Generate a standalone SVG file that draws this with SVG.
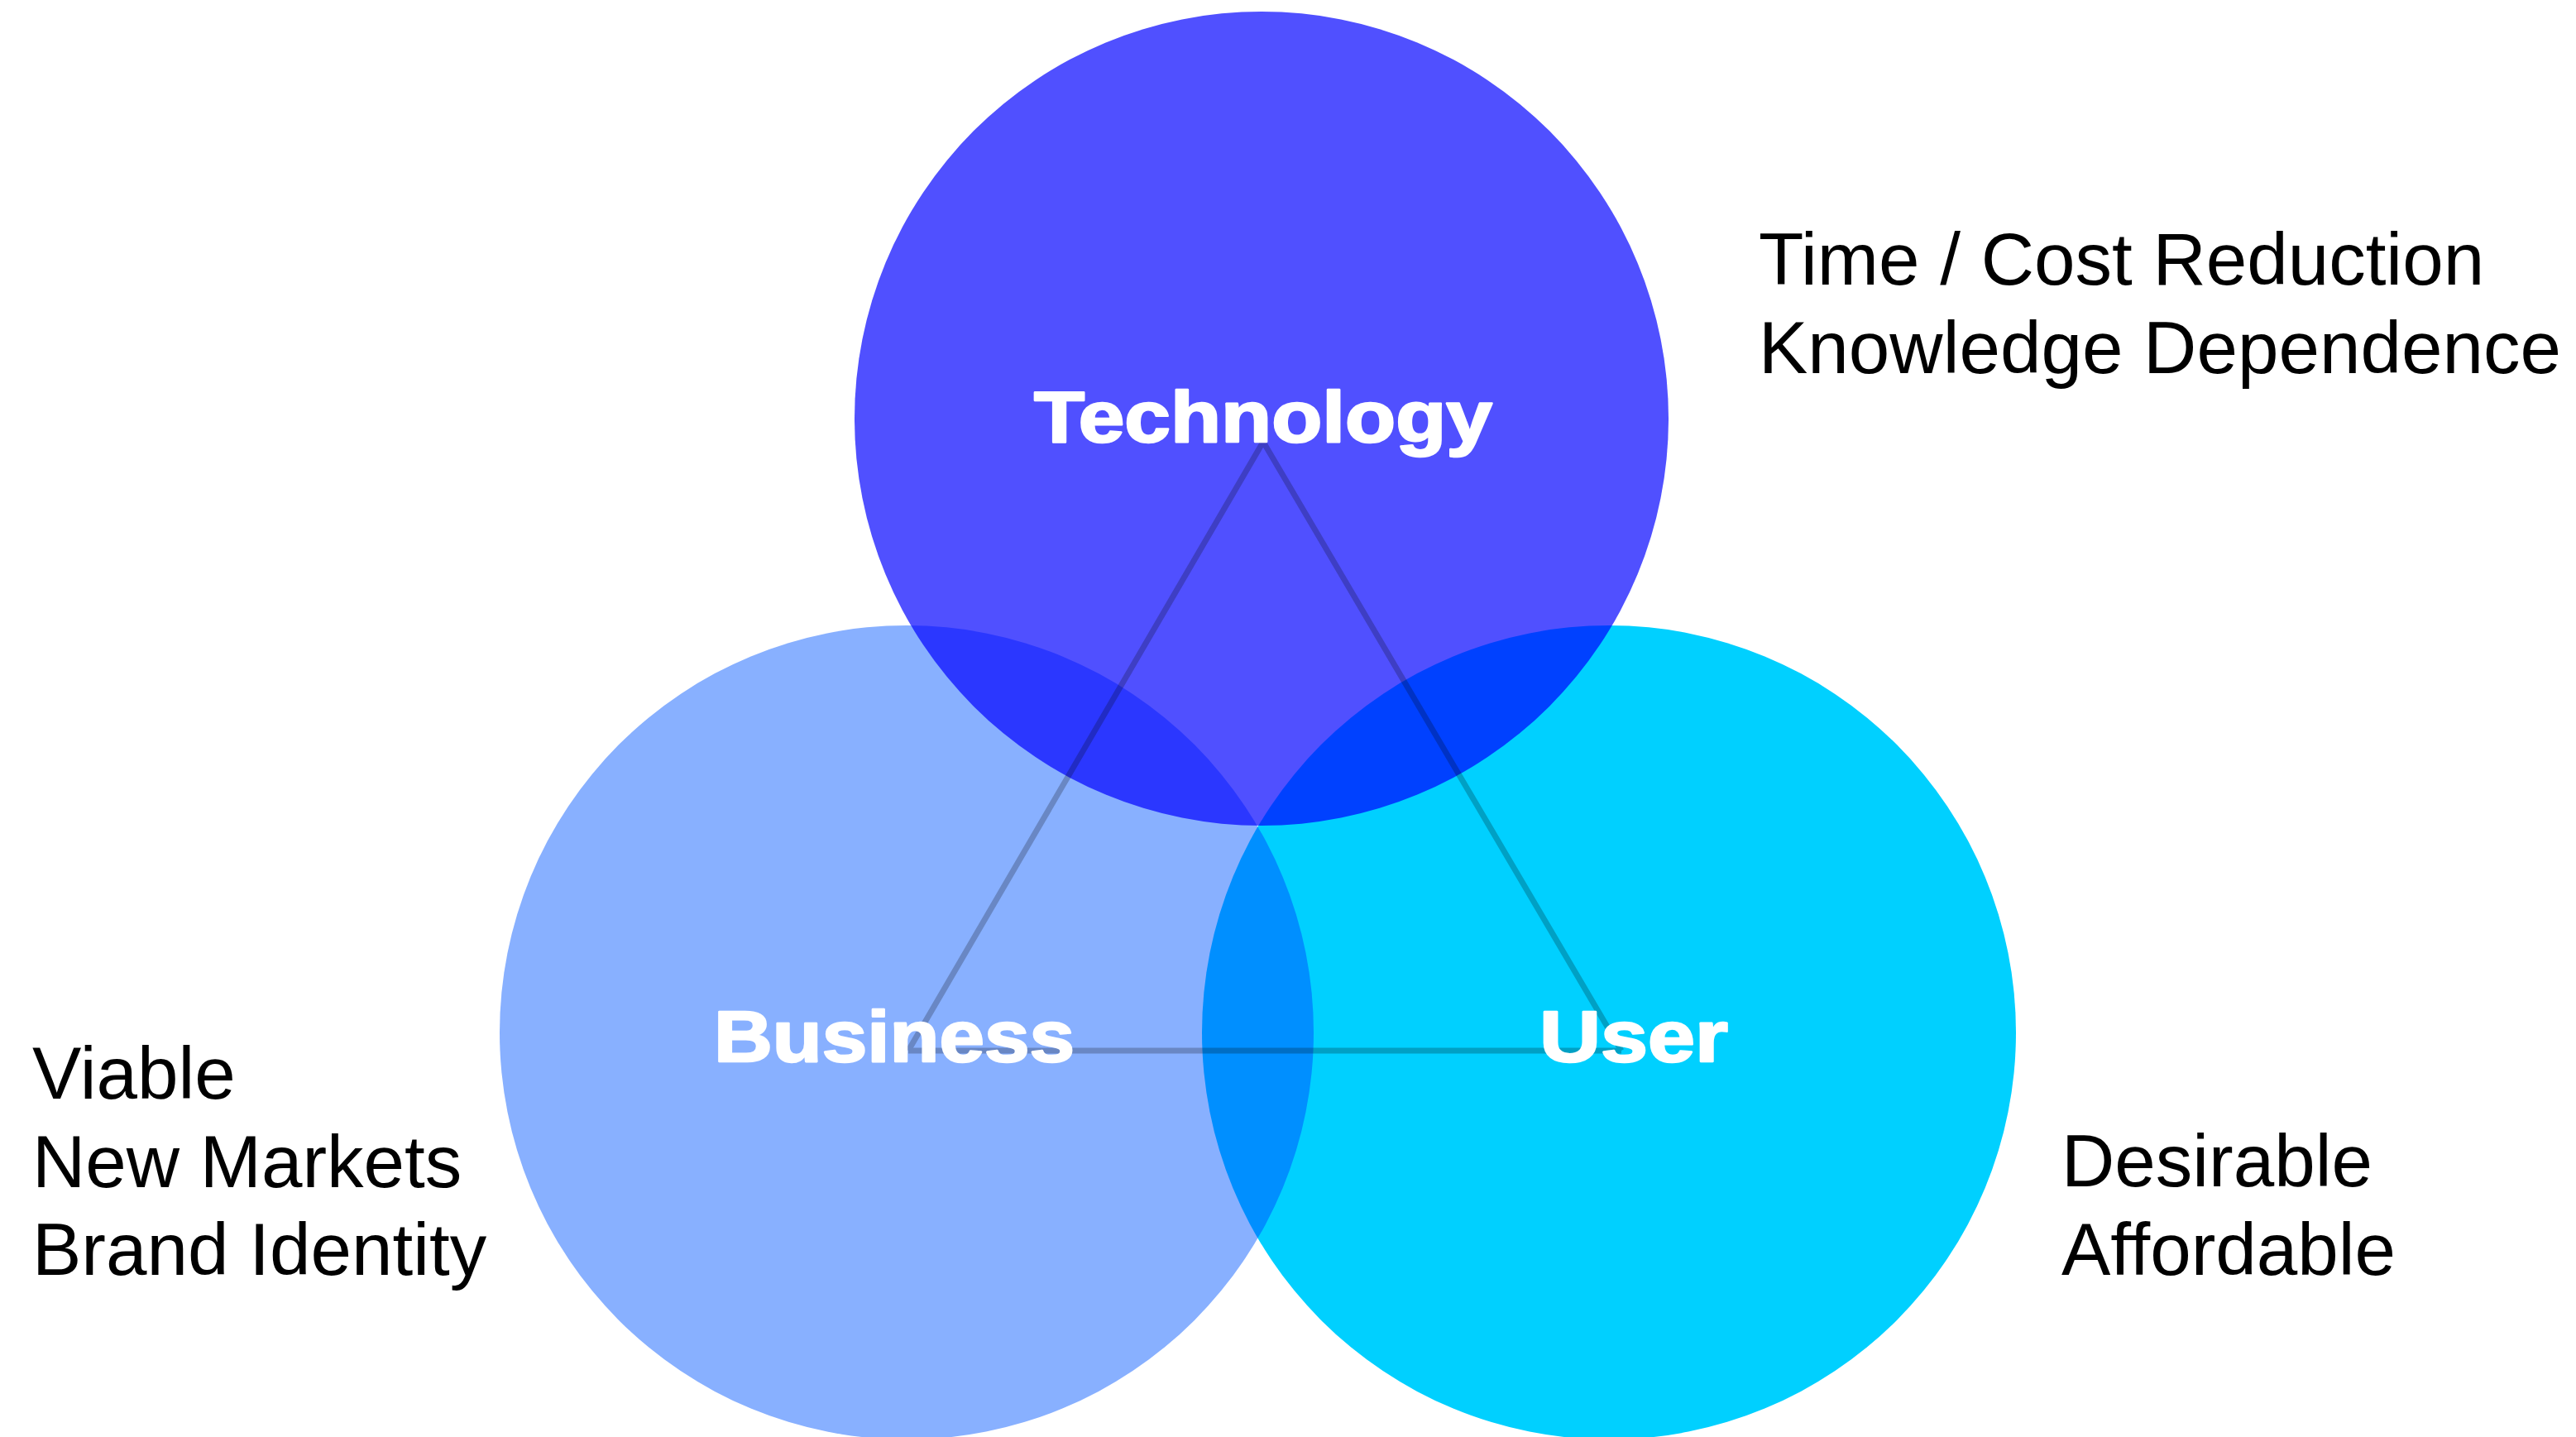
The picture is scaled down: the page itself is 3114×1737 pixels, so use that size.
<svg xmlns="http://www.w3.org/2000/svg" width="3114" height="1737" viewBox="0 0 3114 1737">
  <style>
    .circle { mix-blend-mode: multiply; }
    .label { font-family: "Liberation Sans", Arial, sans-serif; font-weight: bold; font-size: 88px; fill: #FFFFFF; stroke: #FFFFFF; stroke-width: 2.5; stroke-linejoin: round; }
    .note { font-family: "Liberation Sans", Arial, sans-serif; font-size: 89px; fill: #000000; }
    .link { stroke: #C4C4C4; stroke-width: 7; fill: none; }
  </style>
  <rect x="0" y="0" width="3114" height="1737" fill="#FFFFFF"/>
  <g id="connectors">
    <line class="link" x1="1527" y1="534" x2="1098" y2="1270"/>
    <line class="link" x1="1527" y1="534" x2="1960" y2="1270"/>
    <line class="link" x1="1098" y1="1270" x2="1960" y2="1270"/>
  </g>
  <g id="node-business">
    <circle class="circle" cx="1096" cy="1248" r="492" fill="#88B0FF"/>
    <text class="label" x="863" y="1283" textLength="436" lengthAdjust="spacingAndGlyphs">Business</text>
  </g>
  <g id="node-user">
    <circle class="circle" cx="1945" cy="1248" r="492" fill="#00D0FF"/>
    <text class="label" x="1861" y="1283" textLength="228" lengthAdjust="spacingAndGlyphs">User</text>
  </g>
  <g id="node-technology">
    <circle class="circle" cx="1525" cy="506" r="492" fill="#5050FF"/>
    <text class="label" x="1250" y="534" textLength="554" lengthAdjust="spacingAndGlyphs">Technology</text>
  </g>
  <g id="note-technology">
    <text class="note" x="2126" y="344">Time / Cost Reduction</text>
    <text class="note" x="2126" y="451">Knowledge Dependence</text>
  </g>
  <g id="note-business">
    <text class="note" x="39" y="1328">Viable</text>
    <text class="note" x="39" y="1435">New Markets</text>
    <text class="note" x="39" y="1541">Brand Identity</text>
  </g>
  <g id="note-user">
    <text class="note" x="2492" y="1434">Desirable</text>
    <text class="note" x="2492" y="1541">Affordable</text>
  </g>
</svg>
